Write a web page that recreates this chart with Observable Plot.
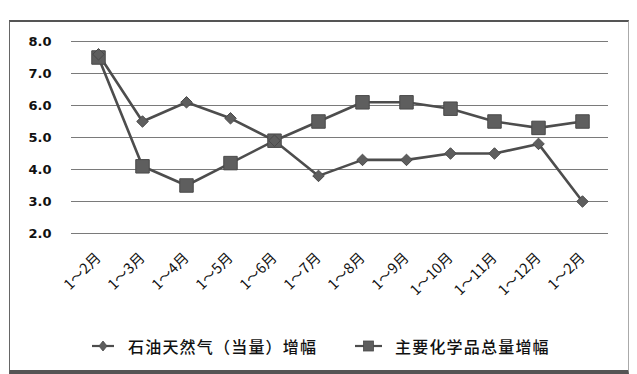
<!DOCTYPE html>
<html>
<head>
<meta charset="utf-8">
<script src="https://cdn.jsdelivr.net/npm/d3@7"></script>
<script src="https://cdn.jsdelivr.net/npm/@observablehq/plot@0.6"></script>
<style>
  html, body { margin: 0; padding: 0; background: #fff; }
  #wrap { position: relative; width: 637px; height: 374px; overflow: hidden; background: #fff; }
  #frame { position: absolute; left: 9px; top: 20px; width: 618px; height: 348px;
           border-top: 2px solid #555; border-left: 1.5px solid #666; border-right: 1px solid #aaa; border-bottom: 4px solid #555; }
  #chart { position: absolute; left: 0; top: 0; }
  #chart svg text { -webkit-font-smoothing: antialiased; }
  #legend { position: absolute; top: 335px; left: 0; width: 637px; height: 22px;
            font-family: "Noto Sans CJK SC", sans-serif; font-size: 16px; font-weight: 500; color: #111; letter-spacing: 1.2px; }
  .item { position: absolute; top: 0; display: flex; align-items: center; height: 22px; white-space: nowrap; }
</style>
</head>
<body>
<div id="wrap">
  <div id="frame"></div>
  <div id="chart"></div>
  <div id="legend"></div>
</div>
<script>
const months = ["1～2月","1～3月","1～4月","1～5月","1～6月","1～7月","1～8月","1～9月","1～10月","1～11月","1～12月","1～2月"];
const oilGas = [7.6, 5.5, 6.1, 5.6, 4.9, 3.8, 4.3, 4.3, 4.5, 4.5, 4.8, 3.0];
const chemicals = [7.5, 4.1, 3.5, 4.2, 4.9, 5.5, 6.1, 6.1, 5.9, 5.5, 5.3, 5.5];
const yTicks = [2, 3, 4, 5, 6, 7, 8];
const seriesNames = ["石油天然气（当量）增幅", "主要化学品总量增幅"];

const oilData = oilGas.map((v, i) => ({i, v}));
const chemData = chemicals.map((v, i) => ({i, v}));

const lineColor = "#4d4d4d";
const markColor = "#5e5e5e";

const plot = Plot.plot({
  width: 637,
  height: 325,
  marginLeft: 71,
  marginRight: 29,
  marginTop: 41,
  marginBottom: 92,
  style: { background: "transparent", overflow: "visible", color: "#111" },
  x: { type: "point", domain: d3.range(months.length), padding: 0.5 },
  y: { domain: [2, 8] },
  marks: [
    Plot.ruleY(yTicks, { stroke: "#7a7a7a", strokeWidth: 1.2 }),
    Plot.axisY(yTicks, { tickSize: 0, tickPadding: 20, tickFormat: d3.format(".1f"), label: null,
      fontFamily: "DejaVu Sans", fontWeight: "bold", fontSize: 13, fill: "#111" }),
    Plot.axisX(d3.range(months.length), { tickSize: 0, tickPadding: 22, tickRotate: -45,
      tickFormat: i => months[i], fontFamily: "Noto Sans CJK SC", fontSize: 14.5, fill: "#111", label: null }),
    Plot.line(oilData, { x: "i", y: "v", stroke: lineColor, strokeWidth: 2.6 }),
    Plot.line(chemData, { x: "i", y: "v", stroke: lineColor, strokeWidth: 2.6 }),
    Plot.dot(chemData, { x: "i", y: "v", symbol: "square", r: 7.6, fill: markColor, stroke: "#4a4a4a", strokeWidth: 1 }),
    Plot.dot(oilData, { x: "i", y: "v", symbol: "diamond2", r: 5.2, fill: markColor, stroke: "#4a4a4a", strokeWidth: 1 })
  ]
});
document.getElementById("chart").appendChild(plot);

// legend
const legend = document.getElementById("legend");
const items = [
  { name: seriesNames[0], left: 92, symbol: "diamond" },
  { name: seriesNames[1], left: 355, symbol: "square" }
];
for (const it of items) {
  const div = document.createElement("div");
  div.className = "item";
  div.style.left = it.left + "px";
  const w = it.symbol === "diamond" ? 22 : 27;
  const mid = w / 2;
  const marker = it.symbol === "diamond"
    ? `<path d="M${mid},${11-5} L${mid+4},11 L${mid},${11+5} L${mid-4},11 Z" fill="${markColor}" stroke="#4a4a4a" stroke-width="0.8"/>`
    : `<rect x="${mid-5}" y="6" width="10" height="10" fill="${markColor}" stroke="#4a4a4a" stroke-width="0.8"/>`;
  div.innerHTML = `<svg width="${w}" height="22"><line x1="0" x2="${w}" y1="11" y2="11" stroke="${lineColor}" stroke-width="2.2"/>${marker}</svg>` +
    `<span style="margin-left:${it.symbol === "diamond" ? 14 : 13}px">${it.name}</span>`;
  legend.appendChild(div);
}
</script>
</body>
</html>
